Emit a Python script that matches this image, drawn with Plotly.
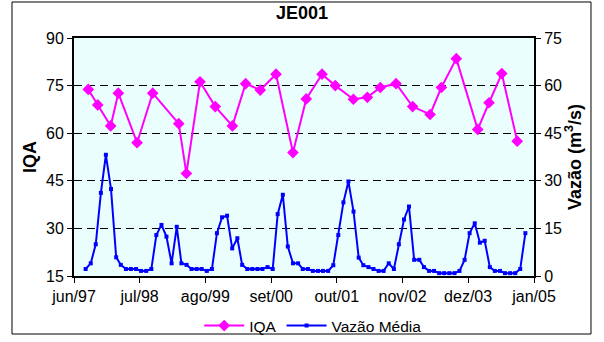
import plotly.graph_objects as go
import pandas as pd

# IQA sampling campaigns (date, index value)
iqa_dates = [
    "1997-08-26", "1997-10-22", "1998-01-08", "1998-02-23", "1998-06-16",
    "1998-09-18", "1999-02-22", "1999-04-09", "1999-06-30", "1999-09-30",
    "2000-01-11", "2000-03-31", "2000-06-27", "2000-09-30", "2001-01-10",
    "2001-03-31", "2001-07-04", "2001-09-22", "2002-01-09", "2002-04-03",
    "2002-06-20", "2002-09-23", "2003-01-01", "2003-04-16", "2003-06-23",
    "2003-09-21", "2004-01-28", "2004-04-05", "2004-06-21", "2004-09-22",
]
iqa_values = [
    73.8, 68.9, 62.3, 72.6, 57.0, 72.6, 63.0, 47.3, 76.2, 68.4,
    62.3, 75.6, 73.6, 78.6, 53.9, 70.8, 78.6, 75.0, 70.7, 71.3,
    74.4, 75.6, 68.4, 65.9, 74.4, 83.5, 61.2, 69.6, 78.8, 57.5,
]

# Monthly mean discharge (m3/s), Aug/1997 - Nov/2004
vazao_values = [
    2.2, 4.0, 10.0, 26.2, 38.2,
    27.4, 5.9, 3.5, 2.2, 2.2, 2.2, 1.6, 1.6, 2.2, 12.9, 16.1, 12.4,
    4.0, 15.5, 4.0, 3.5, 2.2, 2.2, 2.2, 1.6, 2.2, 13.5, 18.5, 19.0,
    8.7, 11.9, 3.5, 2.2, 2.2, 2.2, 2.2, 2.8, 2.2, 19.5, 25.6, 9.3,
    4.0, 4.0, 2.2, 2.2, 1.6, 1.6, 1.6, 1.6, 3.4, 12.9, 23.2, 29.8,
    20.3, 5.8, 3.4, 2.8, 2.2, 1.6, 1.6, 4.0, 2.2, 10.0, 17.8, 21.9,
    5.1, 5.1, 2.8, 1.6, 1.6, 0.9, 0.9, 0.9, 0.9, 1.6, 5.1, 13.5,
    16.6, 10.5, 11.1, 2.8, 1.6, 1.6, 0.9, 0.9, 0.9, 2.2, 13.5,
]
vazao_dates = (pd.date_range("1997-08-01", periods=len(vazao_values), freq="MS")
               + pd.Timedelta(days=9))

tick_dates = ["1997-06-01", "1998-07-01", "1999-08-01", "2000-09-01",
              "2001-10-01", "2002-11-01", "2003-12-01", "2005-01-01"]
tick_labels = ["jun/97", "jul/98", "ago/99", "set/00",
               "out/01", "nov/02", "dez/03", "jan/05"]

FONT = "Liberation Sans, Arial, sans-serif"

fig = go.Figure()
fig.add_trace(go.Scatter(
    x=iqa_dates, y=iqa_values, name="IQA", mode="lines+markers",
    line=dict(color="#FF00FF", width=2),
    marker=dict(symbol="diamond", size=9, color="#FF00FF"),
    yaxis="y",
))
fig.add_trace(go.Scatter(
    x=vazao_dates, y=vazao_values, name="Vazão Média", mode="lines+markers",
    line=dict(color="#0000FF", width=2),
    marker=dict(symbol="square", size=4, color="#0000FF"),
    yaxis="y2",
))

fig.update_layout(
    width=604, height=342, autosize=False,
    margin=dict(l=74, r=70, t=38, b=66, autoexpand=False),
    paper_bgcolor="white", plot_bgcolor="#EBFEFE",
    font=dict(family=FONT, size=16, color="black"),
    title=dict(text="<b>JE001</b>", x=0.5, xanchor="center",
               y=0.963, yanchor="middle", font=dict(size=18)),
    xaxis=dict(
        type="date", range=["1997-06-01", "2005-01-01"],
        tickvals=tick_dates, ticktext=tick_labels,
        ticks="outside", ticklen=5, tickcolor="black", tickwidth=1,
        showgrid=False, showline=True, linecolor="black", linewidth=2,
        mirror=True, zeroline=False, tickfont=dict(size=16),
    ),
    yaxis=dict(
        range=[15, 90], tickvals=[15, 30, 45, 60, 75, 90],
        ticks="outside", ticklen=5, tickcolor="black",
        showline=True, linecolor="black", linewidth=2,
        showgrid=True, gridcolor="black", gridwidth=1, griddash="8px,5px",
        zeroline=False, tickfont=dict(size=16),
        title=dict(text="<b>IQA</b>", font=dict(size=18), standoff=5),
    ),
    yaxis2=dict(
        range=[0, 75], tickvals=[0, 15, 30, 45, 60, 75],
        overlaying="y", side="right",
        ticks="outside", ticklen=5, tickcolor="black",
        showline=True, linecolor="black", linewidth=2,
        showgrid=False, zeroline=False, tickfont=dict(size=16),
        title=dict(text="<b>Vazão (m<sup>3</sup>/s)</b>", font=dict(size=18),
                   standoff=3),
    ),
    legend=dict(orientation="h", x=0.52, xanchor="center",
                y=-0.21, yanchor="middle", bgcolor="rgba(0,0,0,0)",
                font=dict(size=15.5), itemwidth=40),
    showlegend=True,
    shapes=[dict(type="rect", xref="paper", yref="paper",
                 x0=-0.1348, x1=1.1239, y0=-0.2437, y1=1.1513,
                 line=dict(color="black", width=1), layer="below")],
)

fig.write_html("out.html")
